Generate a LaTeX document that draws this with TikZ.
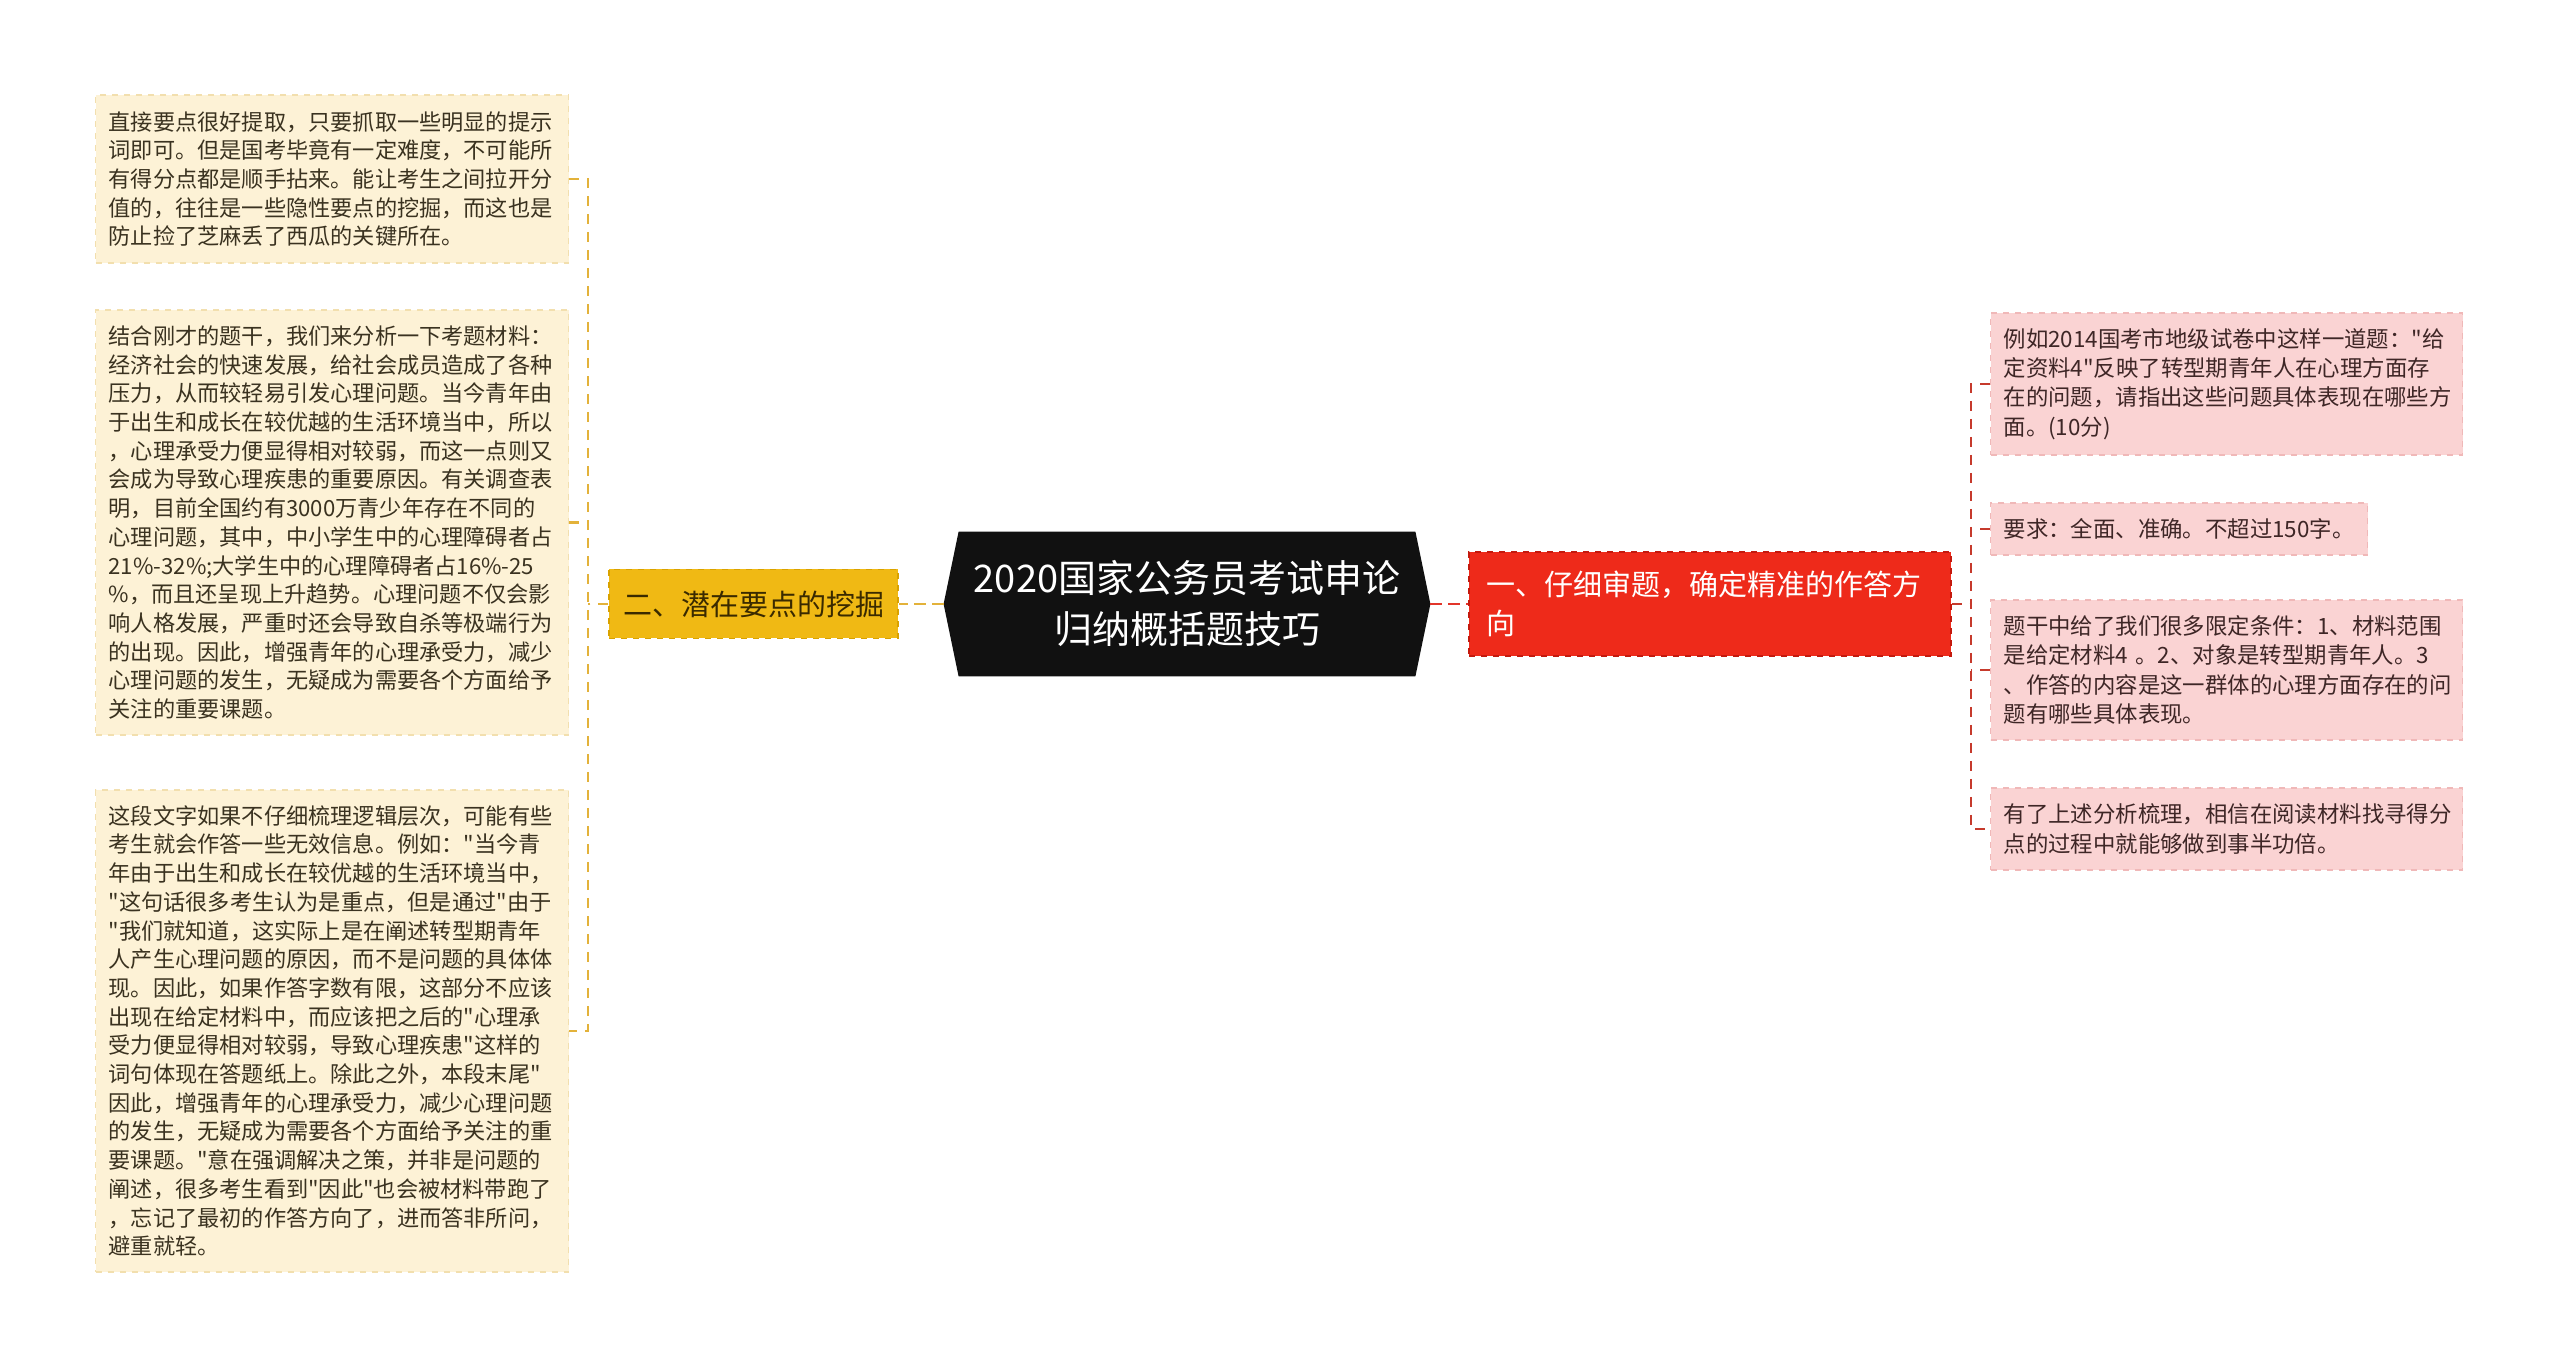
\documentclass[tikz,border=0pt]{standalone}
\usepackage{fontspec}
\setmainfont{Noto Sans CJK SC}[Ligatures=TeXOff]
\pgfdeclarelayer{bg}
\pgfsetlayers{bg,main}
\definecolor{lfill}{HTML}{FDF2D6}
\definecolor{lborder}{HTML}{F2DFAE}
\definecolor{ltext}{HTML}{3A3220}
\definecolor{rfill}{HTML}{FAD3D3}
\definecolor{rborder}{HTML}{F0B8B8}
\definecolor{rtext}{HTML}{3E2626}
\definecolor{yfill}{HTML}{F0B914}
\definecolor{yborder}{HTML}{D9A200}
\definecolor{ytext}{HTML}{3A2A00}
\definecolor{redfill}{HTML}{EE2A1A}
\definecolor{redborder}{HTML}{C41A0E}
\definecolor{cblack}{HTML}{111111}
\definecolor{lline}{HTML}{E3B23A}
\definecolor{rline}{HTML}{C63A2C}
\definecolor{cline}{HTML}{E2352A}
\begin{document}
\begin{tikzpicture}[x=0.5pt,y=-0.5pt,
  leftbox/.style={anchor=west, fill=lfill, draw=lborder, dashed, line width=0.6pt,
    text=ltext, align=left, text width=223.5pt, inner xsep=6.5pt, inner ysep=0pt,
    minimum width=236.5pt, font={\fontsize{11.1pt}{14.35pt}\selectfont}},
  rightbox/.style={anchor=west, fill=rfill, draw=rborder, dashed, line width=0.6pt,
    text=rtext, align=left, text width=223pt, inner xsep=6.5pt, inner ysep=0pt,
    minimum width=236pt, font={\fontsize{11.2pt}{14.6pt}\selectfont}},
  rightshort/.style={anchor=west, fill=rfill, draw=rborder, dashed, line width=0.6pt,
    text=rtext, align=left, inner xsep=6.5pt, inner ysep=0pt,
    font={\fontsize{11.2pt}{14.6pt}\selectfont}},
  ybox/.style={fill=yfill, draw=yborder, dashed, line width=0.6pt, text=ytext,
    minimum width=144.5pt, minimum height=34.5pt, inner sep=0pt,
    font={\fontsize{14.5pt}{18pt}\selectfont}},
  redbox/.style={fill=redfill, draw=redborder, dashed, line width=0.6pt, text=white,
    align=left, text width=224pt, inner xsep=8.5pt, inner ysep=0pt,
    minimum width=241pt, minimum height=52pt,
    font={\fontsize{14.5pt}{19.5pt}\selectfont}},
  centerbox/.style={text=white, align=center, minimum width=243pt, minimum height=72pt,
    inner sep=0pt, font={\fontsize{19pt}{25.5pt}\selectfont}},
  lconn/.style={draw=lline, line width=1.1pt, dash pattern=on 5pt off 4pt},
  rconn/.style={draw=rline, line width=1.1pt, dash pattern=on 5pt off 4pt},
  cconn/.style={draw=cline, line width=1.3pt, dash pattern=on 6pt off 3pt},
  yconn/.style={draw=lline, line width=1.3pt, dash pattern=on 6pt off 3pt}
]
\useasboundingbox (0,0) rectangle (2560,1368);

% central node
\node[centerbox] (c) at (1187,604) {2020国家公务员考试申论\\归纳概括题技巧};
\begin{pgfonlayer}{bg}
\fill[white] (0,0) rectangle (2560,1368);
\fill[cblack] (c.west) -- ([xshift=7.5pt]c.north west) -- ([xshift=-7.5pt]c.north east)
  -- (c.east) -- ([xshift=-7.5pt]c.south east) -- ([xshift=7.5pt]c.south west) -- cycle;
\end{pgfonlayer}

% main branches
\node[ybox] (y) at (753.5,604) {二、潜在要点的挖掘};
\node[redbox] (r) at (1710,604) {一、仔细审题，确定精准的作答方\\向};

% left leaves
\node[leftbox, minimum height=84pt] (L1) at (95,179) {直接要点很好提取，只要抓取一些明显的提示\\词即可。但是国考毕竟有一定难度，不可能所\\有得分点都是顺手拈来。能让考生之间拉开分\\值的，往往是一些隐性要点的挖掘，而这也是\\防止捡了芝麻丢了西瓜的关键所在。};
\node[leftbox, minimum height=212.5pt] (L2) at (95,522.5) {结合刚才的题干，我们来分析一下考题材料：\\经济社会的快速发展，给社会成员造成了各种\\压力，从而较轻易引发心理问题。当今青年由\\于出生和成长在较优越的生活环境当中，所以\\，心理承受力便显得相对较弱，而这一点则又\\会成为导致心理疾患的重要原因。有关调查表\\明，目前全国约有3000万青少年存在不同的\\心理问题，其中，中小学生中的心理障碍者占\\21\%-32\%;大学生中的心理障碍者占16\%-25\\\%，而且还呈现上升趋势。心理问题不仅会影\\响人格发展，严重时还会导致自杀等极端行为\\的出现。因此，增强青年的心理承受力，减少\\心理问题的发生，无疑成为需要各个方面给予\\关注的重要课题。};
\node[leftbox, minimum height=241pt] (L3) at (95,1031) {这段文字如果不仔细梳理逻辑层次，可能有些\\考生就会作答一些无效信息。例如："当今青\\年由于出生和成长在较优越的生活环境当中，\\"这句话很多考生认为是重点，但是通过"由于\\"我们就知道，这实际上是在阐述转型期青年\\人产生心理问题的原因，而不是问题的具体体\\现。因此，如果作答字数有限，这部分不应该\\出现在给定材料中，而应该把之后的"心理承\\受力便显得相对较弱，导致心理疾患"这样的\\词句体现在答题纸上。除此之外，本段末尾"\\因此，增强青年的心理承受力，减少心理问题\\的发生，无疑成为需要各个方面给予关注的重\\要课题。"意在强调解决之策，并非是问题的\\阐述，很多考生看到"因此"也会被材料带跑了\\，忘记了最初的作答方向了，进而答非所问，\\避重就轻。};

% right leaves
\node[rightbox, minimum height=71pt] (R1) at (1990,384) {例如2014国考市地级试卷中这样一道题："给\\定资料4"反映了转型期青年人在心理方面存\\在的问题，请指出这些问题具体表现在哪些方\\面。(10分)};
\node[rightshort, minimum height=26pt] (R2) at (1990,529) {要求：全面、准确。不超过150字。};
\node[rightbox, minimum height=70pt] (R3) at (1990,670) {题干中给了我们很多限定条件：1、材料范围\\是给定材料4 。2、对象是转型期青年人。3\\、作答的内容是这一群体的心理方面存在的问\\题有哪些具体表现。};
\node[rightbox, minimum height=41pt] (R4) at (1990,829) {有了上述分析梳理，相信在阅读材料找寻得分\\点的过程中就能够做到事半功倍。};

% junction points
\coordinate (lj) at (588,604);
\coordinate (rj) at (1971,604);

% connectors
\draw[yconn] (c.west) -- (y.east);
\draw[cconn] (c.east) -- (r.west);
\draw[lconn] (y.west) -- (lj);
\draw[lconn] (L1.east) -| (lj) |- (L3.east);
\draw[lconn] (L2.east) -- (L2.east -| lj);
\draw[rconn] (r.east) -- (rj);
\draw[rconn] (R1.west) -| (rj) |- (R4.west);
\draw[rconn] (R2.west) -- (R2.west -| rj);
\draw[rconn] (R3.west) -- (R3.west -| rj);
\end{tikzpicture}
\end{document}
